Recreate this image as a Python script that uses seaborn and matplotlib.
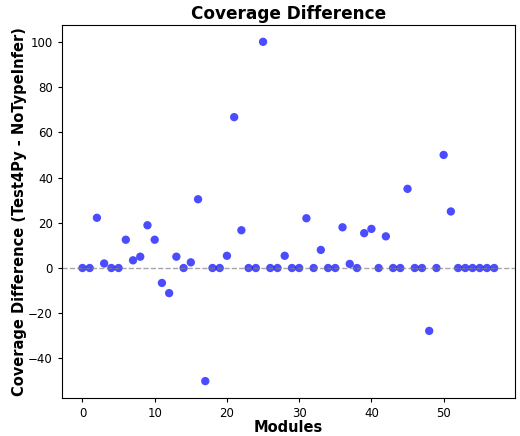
import numpy as np
import pandas as pd
import matplotlib
matplotlib.use("Agg")
import matplotlib.pyplot as plt
import seaborn as sns

# coverage difference per module (Test4Py - NoTypeInfer)
modules = list(range(58))
coverage_diff = [
    0, 0, 22.2, 2, 0, 0, 12.5, 3.4, 5, 18.9,
    12.5, -6.6, -11.1, 5, 0, 2.5, 30.4, -50, 0, 0,
    5.4, 66.7, 16.7, 0, 0, 100, 0, 0, 5.4, 0,
    0, 22, 0, 8, 0, 0, 18, 1.8, 0, 15.4,
    17.3, 0, 14, 0, 0, 35, 0, 0, -27.8, 0,
    50, 25, 0, 0, 0, 0, 0, 0,
]

data = pd.DataFrame({"module": modules, "diff": coverage_diff})

fig, ax = plt.subplots(figsize=(5.2, 4.36), dpi=100)
sns.scatterplot(data=data, x="module", y="diff", color="blue", alpha=0.7,
                s=36, edgecolor="none", ax=ax)
ax.axhline(0, color="gray", linestyle="--", alpha=0.7, linewidth=1)
ax.set_title("Coverage Difference", fontsize=12.2, fontweight="bold", pad=4)
ax.set_xlabel("Modules", fontsize=10.5, fontweight="bold", labelpad=0)
ax.set_ylabel("Coverage Difference (Test4Py - NoTypeInfer)", fontsize=10.5,
              fontweight="bold", labelpad=1)
ax.tick_params(labelsize=8.5, length=3)
fig.subplots_adjust(left=0.119, right=0.99, top=0.943, bottom=0.087)
plt.savefig("out.png")
